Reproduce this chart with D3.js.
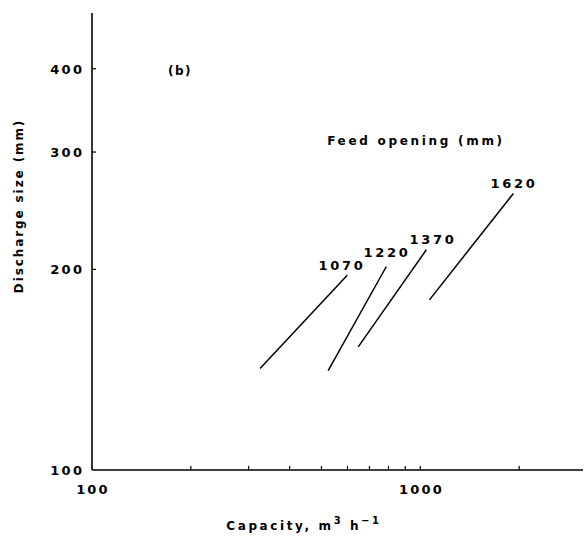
<!DOCTYPE html>
<html><head><meta charset="utf-8">
<script src="https://cdn.jsdelivr.net/npm/d3@7"></script>
<style>
body{margin:0;background:#fff;}
text{font-family:"DejaVu Sans",sans-serif;font-weight:bold;fill:#000;}
</style></head>
<body><svg id="c" width="585" height="552"></svg>
<script>
const series = ["1070","1220","1370","1620"];
const capStart = [325, 524, 647, 1066];
const capEnd = [599, 788, 1043, 1921];
const sizeStart = [142, 141, 153, 180];
const sizeEnd = [196, 202, 214, 260];
const xTicks = [200,300,400,500,600,700,800,900,1000,2000];
const xTickLabels = [100, 1000];
const yTicks = [200,300,400];
const yTickLabels = [100,200,300,400];

const svg = d3.select("#c");
const x = d3.scaleLog().domain([100, 3130]).range([92, 583]);
const y = d3.scaleLog().domain([100, 485]).range([470, 13]);

// axes lines
svg.append("line").attr("x1",92).attr("x2",92).attr("y1",y(485)).attr("y2",y(100)).attr("stroke","#000").attr("stroke-width",1.6);
svg.append("line").attr("x1",92).attr("x2",x(3130)).attr("y1",470).attr("y2",470).attr("stroke","#000").attr("stroke-width",1.4);

// ticks
svg.selectAll(".xt").data(xTicks).enter().append("line")
  .attr("x1",d=>x(d)).attr("x2",d=>x(d)).attr("y1",470).attr("y2",466).attr("stroke","#000").attr("stroke-width",1.2);
svg.selectAll(".yt").data(yTicks).enter().append("line")
  .attr("x1",92).attr("x2",96).attr("y1",d=>y(d)).attr("y2",d=>y(d)).attr("stroke","#000").attr("stroke-width",1.2);

// tick labels
svg.selectAll(".xl").data(xTickLabels).enter().append("text")
  .attr("x",d=>x(d)+ (d===100?1:1.2)).attr("y",494).attr("text-anchor","middle")
  .attr("font-size",13).attr("letter-spacing",2.2).text(d=>d);
svg.selectAll(".yl").data(yTickLabels).enter().append("text")
  .attr("x",84.5).attr("y",d=>y(d)+5).attr("text-anchor","end")
  .attr("font-size",13).attr("letter-spacing",2.4).text(d=>d);

// lines
series.forEach((s,i)=>{
  svg.append("line").attr("x1",x(capStart[i])).attr("y1",y(sizeStart[i]))
    .attr("x2",x(capEnd[i])).attr("y2",y(sizeEnd[i])).attr("stroke","#000").attr("stroke-width",1.5);
});
// series labels
const labX = [342, 387, 433, 514];
const labY = [270, 257, 244, 188];
series.forEach((s,i)=>{
  svg.append("text").attr("x",labX[i]).attr("y",labY[i]).attr("text-anchor","middle")
    .attr("font-size",13).attr("letter-spacing",2.7).text(s);
});

svg.append("text").attr("x",416).attr("y",145).attr("text-anchor","middle")
  .attr("font-size",12).attr("letter-spacing",2.7).text("Feed opening (mm)");
svg.append("text").attr("x",180).attr("y",75).attr("text-anchor","middle")
  .attr("font-size",12).attr("letter-spacing",1.5).text("(b)");

// axis titles
svg.append("text").attr("transform","translate(23,206) rotate(-90)").attr("text-anchor","middle")
  .attr("font-size",12).attr("letter-spacing",1.9).text("Discharge size (mm)");
const xt = svg.append("text").attr("x",304).attr("y",530).attr("text-anchor","middle")
  .attr("font-size",12).attr("letter-spacing",2.6);
xt.append("tspan").text("Capacity, m");
xt.append("tspan").attr("dy",-6).attr("font-size",10).text("3");
xt.append("tspan").attr("dy",6).text(" h");
xt.append("tspan").attr("dy",-6).attr("font-size",10).text("\u22121");
</script></body></html>
